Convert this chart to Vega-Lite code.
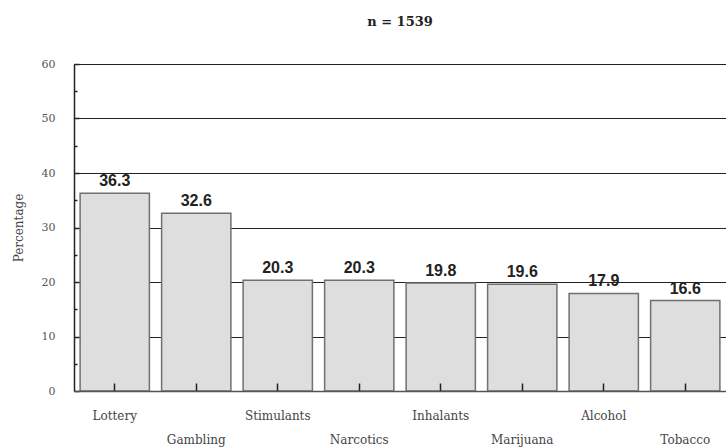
{
  "$schema": "https://vega.github.io/schema/vega-lite/v6.json",
  "autosize": {"type": "none"},
  "padding": {"left": 74, "top": 64, "right": 0, "bottom": 56},
  "width": 652,
  "height": 327,
  "background": "white",
  "title": {"text": "n = 1539", "font": "DejaVu Serif", "fontSize": 13, "fontWeight": "bold", "color": "#222", "anchor": "middle", "offset": 29},
  "data": {"values": [
    {"category": "Lottery", "pct": 36.3},
    {"category": "Gambling", "pct": 32.6},
    {"category": "Stimulants", "pct": 20.3},
    {"category": "Narcotics", "pct": 20.3},
    {"category": "Inhalants", "pct": 19.8},
    {"category": "Marijuana", "pct": 19.6},
    {"category": "Alcohol", "pct": 17.9},
    {"category": "Tobacco", "pct": 16.6}
  ]},
  "config": {"view": {"stroke": null}},
  "encoding": {
    "x": {"field": "category", "type": "nominal", "sort": null,
      "scale": {"paddingInner": 0.15, "paddingOuter": 0.075},
      "axis": {"title": null, "labelAngle": 0, "labelFont": "DejaVu Serif", "labelFontSize": 12, "labelColor": "#444",
        "domainColor": "#555", "domainWidth": 1.5, "tickColor": "#222", "tickWidth": 1.5, "tickSize": -8, "zindex": 1,
        "labelPadding": {"condition": {"test": "indexof(['Gambling','Narcotics','Marijuana','Tobacco'], datum.value) >= 0", "value": 51}, "value": 27}}},
    "y": {"field": "pct", "type": "quantitative",
      "scale": {"domain": [0, 60], "nice": false},
      "axis": {"title": "Percentage", "titleFont": "DejaVu Serif", "titleFontSize": 12, "titleFontWeight": "normal", "titleColor": "#444", "titlePadding": 16,
        "values": [0, 5, 10, 15, 20, 25, 30, 35, 40, 45, 50, 55, 60],
        "labelExpr": "datum.value % 10 == 0 ? datum.label : ''",
        "labelFont": "DejaVu Serif", "labelFontSize": 11, "labelColor": "#555", "labelPadding": 24,
        "domainColor": "#222", "domainWidth": 1.5, "tickColor": "#222", "tickWidth": 1.5,
        "tickSize": {"condition": {"test": "datum.value % 10 == 0", "value": -5}, "value": -3},
        "grid": true, "gridColor": "#222", "gridWidth": 1.2,
        "gridOpacity": {"condition": {"test": "datum.value % 10 == 0", "value": 1}, "value": 0}}}
  },
  "layer": [
    {"mark": {"type": "bar", "fill": "#dedede", "stroke": "#707070", "strokeWidth": 1.5}},
    {"mark": {"type": "text", "baseline": "bottom", "dy": -4, "font": "Liberation Sans", "fontSize": 16, "fontWeight": "bold", "color": "#222"},
      "encoding": {"text": {"field": "pct", "type": "quantitative", "format": ".1f"}}}
  ]
}
